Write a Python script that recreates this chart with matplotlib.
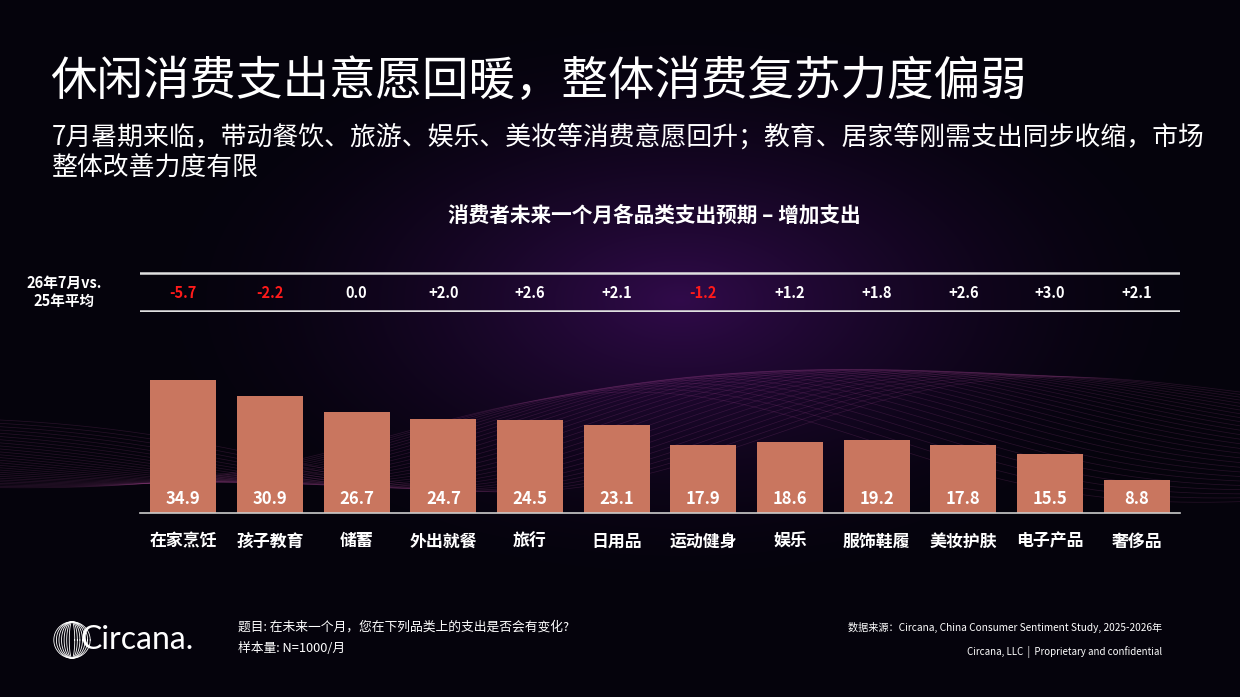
import matplotlib as mpl
mpl.use('Agg')
import matplotlib.pyplot as plt
import numpy as np

plt.rcParams['font.family'] = ['Noto Sans CJK SC', 'DejaVu Sans']

categories = ['在家烹饪', '孩子教育', '储蓄', '外出就餐', '旅行', '日用品',
              '运动健身', '娱乐', '服饰鞋履', '美妆护肤', '电子产品', '奢侈品']
values = [34.9, 30.9, 26.7, 24.7, 24.5, 23.1, 17.9, 18.6, 19.2, 17.8, 15.5, 8.8]
changes = [-5.7, -2.2, 0.0, 2.0, 2.6, 2.1, -1.2, 1.2, 1.8, 2.6, 3.0, 2.1]

W, H = 1240, 697
fig = plt.figure(figsize=(W / 100, H / 100), dpi=100)

# background: dark with purple glow in the middle
bg = fig.add_axes([0, 0, 1, 1])
yy, xx = np.mgrid[0:H, 0:W]
d = np.sqrt(((xx - 680) / 520.0) ** 2 + ((yy - 300) / 280.0) ** 2)
glow = np.clip(1 - d, 0, 1) ** 1.6
img = np.zeros((H, W, 3))
img[..., 0] = 0.02 + 0.17 * glow
img[..., 1] = 0.012 + 0.03 * glow
img[..., 2] = 0.05 + 0.24 * glow
bg.imshow(img, extent=[0, W, H, 0], aspect='auto')
t = np.linspace(0, W, 400)
for k in range(28):
    ph = k * 0.09
    yl = 420 + 90 * np.sin(t / 260.0 + ph) * np.exp(-((t - 700) / 500.0) ** 2) + k * 2.2
    bg.plot(t, yl, color='#b04a9a', lw=0.5, alpha=0.2)
bg.set_xlim(0, W)
bg.set_ylim(H, 0)
bg.axis('off')

# bars
ax = fig.add_axes([140 / W, (H - 513) / H, 1040 / W, 152 / H])
ax.patch.set_alpha(0)
x = np.arange(len(categories))
ax.bar(x, values, width=0.76, color='#c9765f', zorder=2)
for xi, v in zip(x, values):
    ax.text(xi, 1.2, f'{v:.1f}', ha='center', va='bottom', color='white',
            fontsize=12, fontweight='bold', zorder=3)
ax.set_xlim(-0.5, len(categories) - 0.5)
ax.set_ylim(0, 40)
ax.set_xticks(x)
ax.set_xticklabels(categories, color='white', fontsize=12.2, fontweight='bold')
ax.tick_params(axis='x', length=0, pad=14)
ax.set_yticks([])
for s in ['top', 'right', 'left']:
    ax.spines[s].set_visible(False)
ax.spines['bottom'].set_color('#cccccc')
ax.spines['bottom'].set_linewidth(1.2)

# comparison row
tx = fig.add_axes([140 / W, (H - 312) / H, 1040 / W, 40 / H])
tx.patch.set_alpha(0)
tx.set_xlim(-0.5, len(categories) - 0.5)
tx.set_ylim(0, 1)
tx.axhline(0.97, color='#e0e0e0', lw=1.8)
tx.axhline(0.03, color='#e0e0e0', lw=1.8)
for xi, c in zip(x, changes):
    if c < 0:
        s, col = f'{c:.1f}', '#ff1a1a'
    elif c > 0:
        s, col = f'+{c:.1f}', 'white'
    else:
        s, col = f'{c:.1f}', 'white'
    tx.text(xi, 0.48, s, ha='center', va='center', color=col, fontsize=10.5, fontweight='bold')
tx.axis('off')
fig.text(64 / W, 1 - 292 / H, '26年7月vs.\n25年平均', ha='center', va='center',
         color='white', fontsize=10.5, fontweight='bold', linespacing=1.1)

# titles
fig.text(50 / W, 1 - 82 / H, '休闲消费支出意愿回暖，整体消费复苏力度偏弱', ha='left', va='center',
         color='white', fontsize=33.5)
fig.text(52 / W, 1 - 137 / H, '7月暑期来临，带动餐饮、旅游、娱乐、美妆等消费意愿回升；教育、居家等刚需支出同步收缩，市场',
         ha='left', va='center', color='white', fontsize=18.6)
fig.text(52 / W, 1 - 168 / H, '整体改善力度有限', ha='left', va='center', color='white', fontsize=18.6)
fig.text(654 / W, 1 - 215 / H, '消费者未来一个月各品类支出预期 – 增加支出', ha='center', va='center',
         color='white', fontsize=14.9, fontweight='bold')

# footer
fig.text(238 / W, 1 - 627 / H, '题目: 在未来一个月，您在下列品类上的支出是否会有变化?', ha='left', va='center',
         color='white', fontsize=9.2, style='italic')
fig.text(238 / W, 1 - 648 / H, '样本量: N=1000/月', ha='left', va='center',
         color='white', fontsize=9.2, style='italic')
fig.text(1162 / W, 1 - 627 / H, '数据来源：Circana, China Consumer Sentiment Study, 2025-2026年', ha='right',
         va='center', color='white', fontsize=7.3, style='italic')
fig.text(1162 / W, 1 - 652 / H, 'Circana, LLC  |  Proprietary and confidential', ha='right', va='center',
         color='white', fontsize=7)

# logo
lg = fig.add_axes([52 / W, (H - 660) / H, 40 / W, 40 / H])
lg.set_xlim(-1.1, 1.1)
lg.set_ylim(-1.1, 1.1)
th = np.linspace(0, 2 * np.pi, 100)
for a in np.linspace(0.15, 1.0, 7):
    lg.plot(a * np.cos(th), np.sin(th), color='white', lw=0.6)
lg.set_aspect('equal')
lg.axis('off')
lg.patch.set_alpha(0)
fig.text(80 / W, 1 - 640 / H, 'Circana.', ha='left', va='center', color='white', fontsize=23,
         family=['Lato', 'DejaVu Sans'])

fig.savefig('out.png', dpi=100, facecolor='#05030d')
